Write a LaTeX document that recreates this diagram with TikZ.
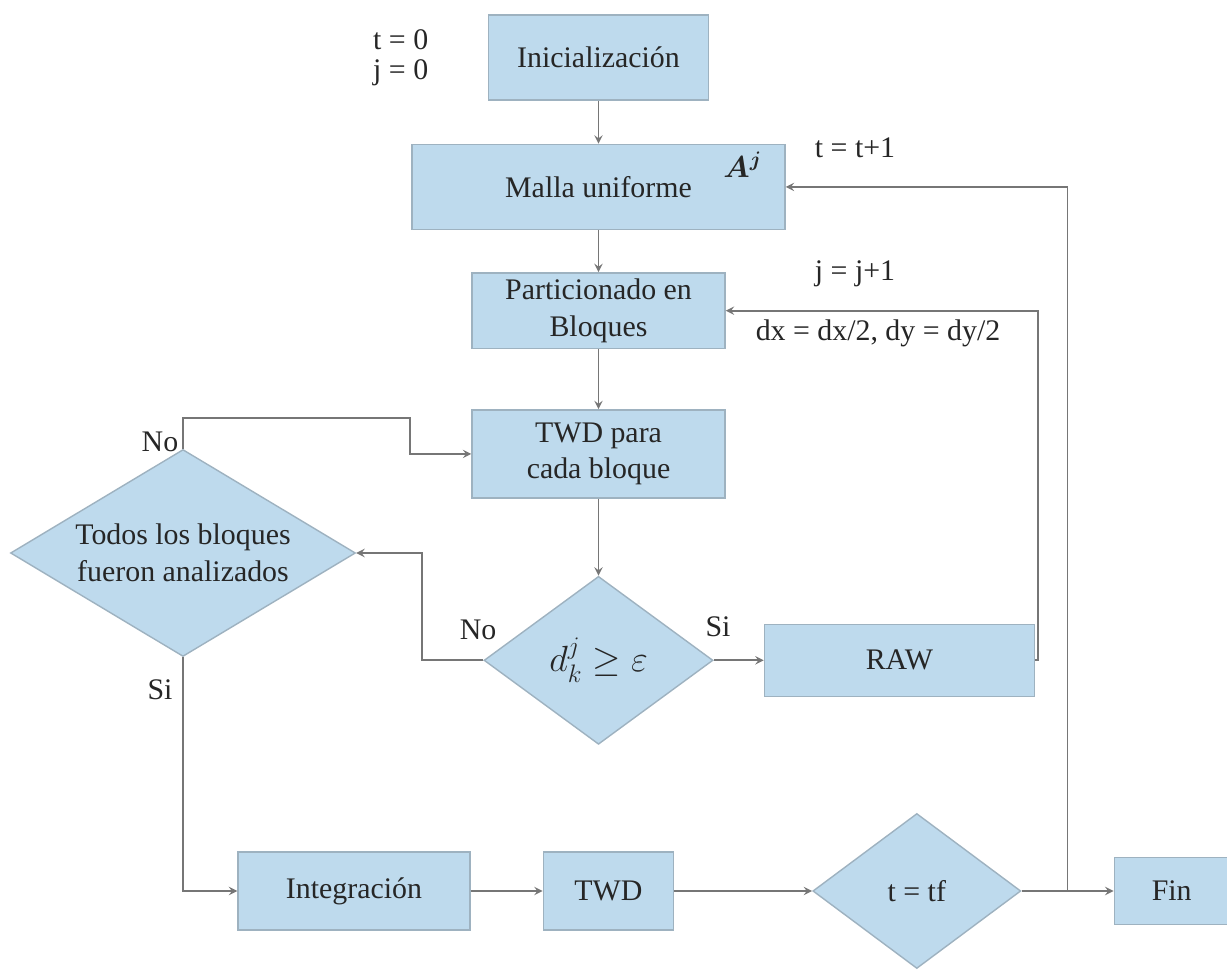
\documentclass[tikz,border=0pt]{standalone}
\usepackage{amsmath}
\usepackage{amssymb}
\usepackage{fontspec}
\setmainfont{Liberation Serif}
\usepackage{tikz}
\usetikzlibrary{positioning,arrows,shapes.geometric}

\definecolor{boxfill}{RGB}{190,218,237}
\definecolor{boxline}{RGB}{158,178,192}
\definecolor{flowline}{RGB}{118,118,118}

\begin{document}
\begin{tikzpicture}[
font=\fontsize{17}{21}\selectfont,
blockbox/.style={rectangle, draw=boxline, fill=boxfill, thick, align=center, text=black!85},
choicebox/.style={diamond, draw=boxline, fill=boxfill, thick, align=center, inner sep=0pt, text=black!85},
flow/.style={->, >=stealth, draw=flowline, line width=1.1pt},
note/.style={text=black!85, inner sep=1pt}
]
    \useasboundingbox (0,0) rectangle (24.54,-19.44);

    %Nodes
    \node[blockbox, minimum width=4.4cm, minimum height=1.7cm]
        (init)                          at (11.97,-1.15) {Inicialización};
    \node[blockbox, minimum width=7.46cm, minimum height=1.7cm]
        (malla)     [below=0.86cm of init]      {Malla uniforme};
    \node[blockbox, minimum width=5.06cm, minimum height=1.5cm]
        (part)      [below=0.84cm of malla]     {Particionado en\\Bloques};
    \node[blockbox, minimum width=5.06cm, minimum height=1.76cm]
        (twd)       [below=1.2cm of part]       {TWD para\\cada bloque};
    \node[choicebox, minimum width=4.58cm, minimum height=3.36cm, aspect=1.36]
        (dk)        [below=1.54cm of twd]       {\fontsize{22}{26}\selectfont $d_k^j \geq \varepsilon$};
    \node[blockbox, minimum width=5.4cm, minimum height=1.44cm]
        (raw)       [right=1.0cm of dk]         {RAW};
    \node[choicebox, minimum width=6.9cm, minimum height=4.14cm, aspect=1.67]
        (todos)                         at (3.66,-11.06) {Todos los bloques\\fueron analizados};
    \node[blockbox, minimum width=4.64cm, minimum height=1.56cm]
        (integ)                         at (7.08,-17.82) {Integración};
    \node[blockbox, minimum width=2.6cm, minimum height=1.56cm]
        (twdb)      [right=1.44cm of integ]     {TWD};
    \node[choicebox, minimum width=4.16cm, minimum height=3.1cm, aspect=1.34]
        (tf)        [right=2.76cm of twdb]      {t = tf};
    \node[blockbox, minimum width=2.3cm, minimum height=1.34cm]
        (fin)       [right=1.84cm of tf]        {Fin};

    %Labels
    \node[note, align=left, font=\fontsize{17}{17}\selectfont]
        (start)     [left=1.15cm of init]       {t = 0\\j = 0};
    \node[note, anchor=center, text=black!85]
        (aj)        at ([xshift=-0.86cm,yshift=-0.42cm]malla.north east) {$\boldsymbol{A^j}$};
    \node[note] (tinc)  at (17.1,-2.96)  {t = t+1};
    \node[note] (jinc)  at (17.1,-5.48)  {j = j+1};
    \node[note] (dxdy)  at (17.56,-6.66) {dx = dx/2, dy = dy/2};
    \node[note] (noA)   at (3.2,-8.84)   {No};
    \node[note] (siA)   at (3.2,-13.8)   {Si};
    \node[note] (noB)   at (9.56,-12.6)  {No};
    \node[note] (siB)   at (14.36,-12.54) {Si};

    %Lines
    \draw[flow] (init.south) -- (init.south |- malla.north);
    \draw[flow] (malla.south) -- (part.north);
    \draw[flow] (part.south) -- (twd.north);
    \draw[flow] (twd.south) -- (dk.north);
    \draw[flow] (dk.east) -- (raw.west);
    \draw[flow] (raw.east) -- ++(0.06,0) |- (part.east);
    \draw[flow] (dk.west) -- ++(-1.22,0) |- (todos.east);
    \draw[flow] (todos.north) -- ++(0,0.62) -- ++(4.54,0) |- (twd.west);
    \draw[flow] (todos.south) |- (integ.west);
    \draw[flow] (integ.east) -- (twdb.west);
    \draw[flow] (twdb.east) -- (tf.west);
    \draw[flow] (tf.east) -- coordinate[pos=0.5] (loopT) (fin.west);
    \draw[flow] (loopT) |- (malla.east);
\end{tikzpicture}
\end{document}
